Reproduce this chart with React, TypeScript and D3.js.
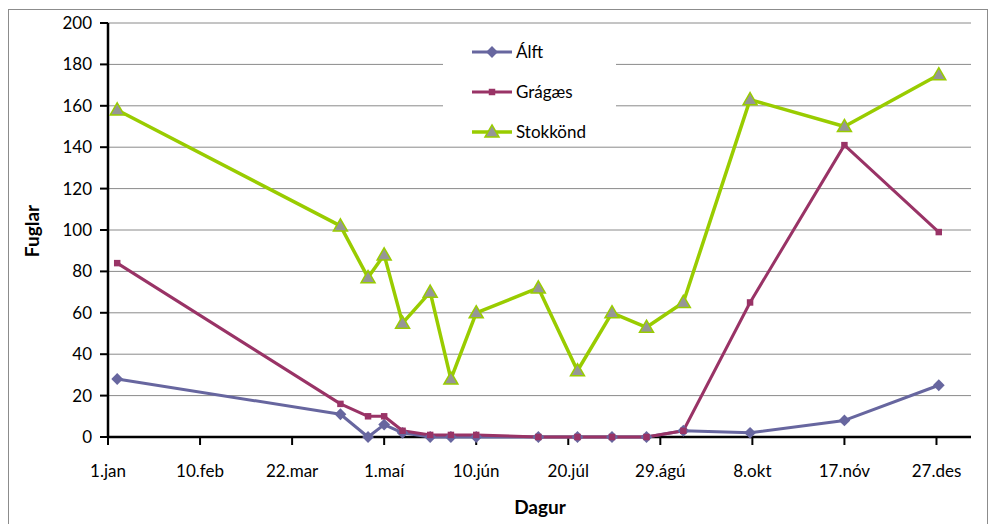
import React from "react";
import * as d3 from "d3";

// Talningardagar (sameiginlegir fyrir allar tegundir)
const dates = [
  "2009-01-05", "2009-04-12", "2009-04-24", "2009-05-01", "2009-05-09",
  "2009-05-21", "2009-05-30", "2009-06-10", "2009-07-07", "2009-07-24",
  "2009-08-08", "2009-08-23", "2009-09-08", "2009-10-07", "2009-11-17",
  "2009-12-28",
];
const alft = [28, 11, 0, 6, 2, 0, 0, 0, 0, 0, 0, 0, 3, 2, 8, 25];
const gragaes = [84, 16, 10, 10, 3, 1, 1, 1, 0, 0, 0, 0, 3, 65, 141, 99];
const stokkond = [158, 102, 77, 88, 55, 70, 28, 60, 72, 32, 60, 53, 65, 163, 150, 175];

const yTicks = [0, 20, 40, 60, 80, 100, 120, 140, 160, 180, 200];
const xTickDates = [
  "2009-01-01", "2009-02-10", "2009-03-22", "2009-05-01", "2009-06-10",
  "2009-07-20", "2009-08-29", "2009-10-08", "2009-11-17", "2009-12-27",
];
const xTickLabels = [
  "1.jan", "10.feb", "22.mar", "1.maí", "10.jún",
  "20.júl", "29.ágú", "8.okt", "17.nóv", "27.des",
];

const series = [
  { name: "Álft", values: alft, color: "#67669f", marker: "diamond" },
  { name: "Grágæs", values: gragaes, color: "#993366", marker: "square" },
  { name: "Stokkönd", values: stokkond, color: "#99cc00", marker: "triangle" },
];

const FONT = "Lato, 'Open Sans', sans-serif";

const Marker: React.FC<{ type: string; x: number; y: number; color: string }> = ({ type, x, y, color }) => {
  if (type === "diamond") {
    const p = d3.symbol().type(d3.symbolSquare).size(70)() ?? "";
    return <path d={p} transform={`translate(${x},${y}) rotate(45)`} fill={color} />;
  }
  if (type === "square") {
    const p = d3.symbol().type(d3.symbolSquare).size(42)() ?? "";
    return <path d={p} transform={`translate(${x},${y})`} fill={color} />;
  }
  const p = d3.symbol().type(d3.symbolTriangle).size(85)() ?? "";
  return <path d={p} transform={`translate(${x},${y + 1})`} fill="#969696" stroke={color} strokeWidth={1.5} />;
};

export default function App() {
  const width = 989;
  const height = 524;
  const margin = { top: 23, right: 18, bottom: 87, left: 108 };

  const parse = d3.utcParse("%Y-%m-%d");
  const x = d3.scaleUtc()
    .domain([parse("2009-01-01")!, parse("2010-01-11")!])
    .range([margin.left, width - margin.right]);
  const y = d3.scaleLinear()
    .domain([0, 200])
    .range([height - margin.bottom, margin.top]);

  const pts = dates.map(d => parse(d)!);
  const line = d3.line<number>()
    .x((_, i) => x(pts[i]))
    .y(v => y(v));

  const x0 = margin.left;
  const x1 = width - margin.right;
  const yBase = y(0);

  return (
    <svg width={width} height={height} style={{ position: "absolute", left: 0, top: 0 }}>
      {/* ramminn */}
      <rect x={8.5} y={9.5} width={979} height={530} fill="white" stroke="#8c8c8c" strokeWidth={1} />

      {/* hnitalínur */}
      {yTicks.slice(1).map(t => (
        <line key={t} x1={x0} x2={x1} y1={y(t)} y2={y(t)} stroke="#8a8a8a" strokeWidth={1} />
      ))}

      {/* Y ás */}
      <line x1={x0} x2={x0} y1={y(200)} y2={yBase} stroke="black" strokeWidth={2.5} />
      {yTicks.map(t => (
        <g key={t}>
          <line x1={x0 - 8} x2={x0} y1={y(t)} y2={y(t)} stroke="black" strokeWidth={2} />
          <text x={x0 - 16} y={y(t)} dy="0.35em" textAnchor="end" fontFamily={FONT} fontSize={17} fill="#000">
            {t}
          </text>
        </g>
      ))}

      {/* X ás */}
      <line x1={x0} x2={x1} y1={yBase} y2={yBase} stroke="black" strokeWidth={2.5} />
      {xTickDates.map((d, i) => {
        const xp = x(parse(d)!);
        return (
          <g key={d}>
            <line x1={xp} x2={xp} y1={yBase} y2={yBase + 8} stroke="black" strokeWidth={2} />
            <text x={xp} y={yBase + 40} textAnchor="middle" fontFamily={FONT} fontSize={17} fill="#000">
              {xTickLabels[i]}
            </text>
          </g>
        );
      })}

      {/* Línur */}
      {series.map(s => (
        <path key={s.name} d={line(s.values) ?? ""} fill="none" stroke={s.color}
          strokeWidth={s.marker === "triangle" ? 3.5 : 3} strokeLinejoin="round" />
      ))}
      {series.map(s => (
        <g key={s.name + "m"}>
          {s.values.map((v, i) => (
            <Marker key={i} type={s.marker} x={x(pts[i])} y={y(v)} color={s.color} />
          ))}
        </g>
      ))}

      {/* Skýringar */}
      <rect x={443} y={30} width={173} height={115} fill="white" />
      {series.map((s, i) => {
        const ly = 52 + i * 40;
        return (
          <g key={s.name + "l"}>
            <line x1={472} x2={512} y1={ly} y2={ly} stroke={s.color} strokeWidth={s.marker === "triangle" ? 3.5 : 3} />
            <Marker type={s.marker} x={492} y={ly} color={s.color} />
            <text x={516} y={ly} dy="0.35em" fontFamily={FONT} fontSize={17} fill="#000">{s.name}</text>
          </g>
        );
      })}

      {/* Ásaheiti */}
      <text x={540} y={514} textAnchor="middle" fontFamily={FONT} fontSize={19} fontWeight="bold" fill="#000">
        Dagur
      </text>
      <text transform={`translate(39,231) rotate(-90)`} textAnchor="middle" fontFamily={FONT} fontSize={19}
        fontWeight="bold" fill="#000">
        Fuglar
      </text>
    </svg>
  );
}
